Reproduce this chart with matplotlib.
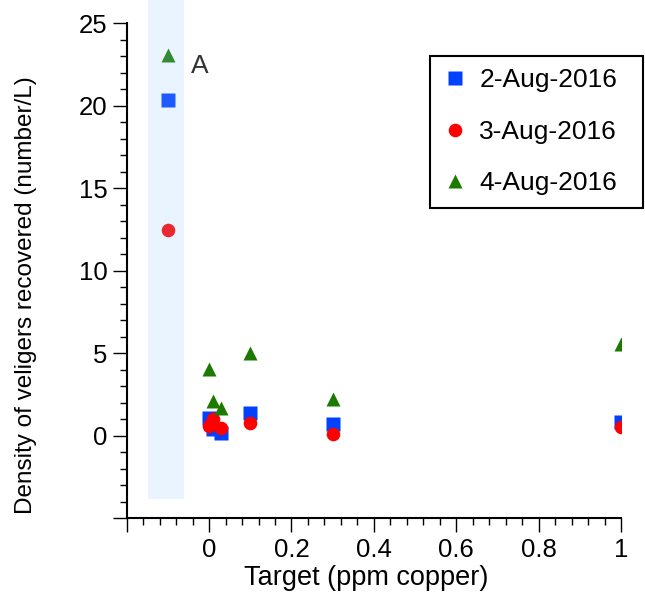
import matplotlib
matplotlib.use("Agg")
import matplotlib.pyplot as plt
from matplotlib.ticker import MultipleLocator, FuncFormatter
from matplotlib.patches import Rectangle

plt.rcParams['font.family'] = ['Liberation Sans', 'DejaVu Sans']

# Sampling dates and copper targets (x = -0.1 is the ambient reference group)
dates = ['2-Aug-2016', '3-Aug-2016', '4-Aug-2016']
target = [-0.1, 0, 0.01, 0.03, 0.1, 0.3, 1]

# Veliger density (number/L) per date
aug2 = [20.35, 1.1, 0.4, 0.15, 1.4, 0.7, 0.85]
aug3 = [12.47, 0.6, 1.0, 0.45, 0.75, 0.1, 0.55]
aug4 = [23.07, 4.05, 2.1, 1.7, 5.0, 2.25, 5.55]

series = [aug2, aug3, aug4]
markers = ['s', 'o', '^']
msizes = [9.6, 9.8, 10.6]
colors = ['#0040FF', '#FF0000', '#1C7A00']

fig = plt.figure(figsize=(6.45, 5.98), dpi=100)
ax = fig.add_axes([126.7 / 645, 79.7 / 598, 494.3 / 645, 495 / 598])

for vals, mk, ms, col, lab in zip(series, markers, msizes, colors, dates):
    ax.plot(target, vals, linestyle='none', marker=mk, markersize=ms,
            markerfacecolor=col, markeredgecolor='none', label=lab, zorder=3)

# Shaded band marking the ambient group, laid over its markers
band = Rectangle((-0.149, -3.84), 0.088, 31, facecolor=(0.6, 0.8, 1.0),
                 alpha=0.2, edgecolor='none', zorder=4, clip_on=False)
ax.add_patch(band)

ax.text(-0.023, 22.0, 'A', fontsize=19, color='#333333',
        ha='center', va='baseline')

ax.set_xlim(-0.2, 1.0)
ax.set_ylim(-5, 25)

for side in ('top', 'right'):
    ax.spines[side].set_visible(False)
for side in ('left', 'bottom'):
    ax.spines[side].set_linewidth(1.5)

ax.xaxis.set_major_locator(MultipleLocator(0.2))
ax.xaxis.set_minor_locator(MultipleLocator(0.04))
ax.yaxis.set_major_locator(MultipleLocator(5))
ax.yaxis.set_minor_locator(MultipleLocator(1))


def xfmt(v, pos):
    if v < -1e-9:
        return ''
    return '%g' % round(v, 2)


def yfmt(v, pos):
    if v < -1e-9:
        return ''
    return '%d' % round(v)


ax.xaxis.set_major_formatter(FuncFormatter(xfmt))
ax.yaxis.set_major_formatter(FuncFormatter(yfmt))

ax.tick_params(which='major', direction='out', length=10, width=1.0,
               labelsize=18.5, pad=4)
ax.tick_params(which='minor', direction='out', length=5.2, width=1.0)

ax.set_xlabel('Target (ppm copper)', fontsize=19.5, va='top')
ax.xaxis.set_label_coords(0.485, -0.0943)
ax.set_ylabel('Density of veligers recovered (number/L)', fontsize=17.5)
ax.yaxis.set_label_coords(-0.181, 0.451)

leg = ax.legend(loc='upper left', mode='expand',
                bbox_to_anchor=(430 / 645, 0.5, 213 / 645, 1 - 56 / 598 - 0.5),
                bbox_transform=fig.transFigure, fontsize=19, frameon=True,
                fancybox=False, edgecolor='black', framealpha=1,
                handlelength=0.99, handletextpad=0.41, labelspacing=1.04,
                borderpad=0.47, borderaxespad=0, markerscale=1.0)
leg.get_frame().set_linewidth(1.5)

fig.savefig('out.png', dpi=100)
